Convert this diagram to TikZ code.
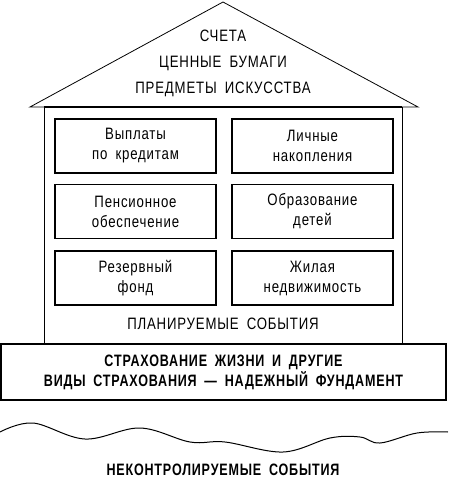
\documentclass[tikz,border=0pt]{standalone}
\usepackage{fontspec}
\setmainfont{Liberation Sans}[FakeStretch=0.8,LetterSpace=5,WordSpace=1.8,BoldFeatures={FakeStretch=0.76}]
\usetikzlibrary{positioning}
\begin{document}
\begin{tikzpicture}[x=1pt,y=-1pt,
  txt/.style={font=\fontsize{16.5}{20}\selectfont,align=center,inner sep=0pt},
  cell/.style={txt,draw,line width=1.1pt,minimum width=161pt,minimum height=54pt},
  bold/.style={font=\fontsize{16.5}{20}\selectfont\bfseries,align=center,inner sep=0pt}]
\useasboundingbox (0,0) rectangle (448,480);
% roof and walls
\draw[line width=0.8pt] (30,107) -- (223,2) -- (418,107) -- cycle;
\draw[line width=2.4pt] (44,107) -- (402,107);
\draw[line width=1pt] (44,107) -- (44,344) (402,107) -- (402,344);
\node[txt,font=\fontsize{16.5}{26}\selectfont] (roof) at (223,63) {СЧЕТА\\ЦЕННЫЕ БУМАГИ\\ПРЕДМЕТЫ ИСКУССТВА};
\foreach \n/\x/\y/\t in {loans/135.5/146/{Выплаты\\по кредитам},savings/312.5/146/{Личные\\накопления},
  pension/135.5/211.5/{Пенсионное\\обеспечение},school/312.5/211.5/{Образование\\детей},
  reserve/135.5/278/{Резервный\\фонд},home/312.5/278/{Жилая\\недвижимость}}
  {\node[cell] (\n) at (\x,\y) {\t};}
\node[txt] (planned) at (223,324) {ПЛАНИРУЕМЫЕ СОБЫТИЯ};
% foundation
\node[bold,draw,line width=1.3pt,minimum width=445pt,minimum height=56pt] (base) at (223.5,372) {СТРАХОВАНИЕ ЖИЗНИ И ДРУГИЕ\\ВИДЫ СТРАХОВАНИЯ — НАДЕЖНЫЙ ФУНДАМЕНТ};
\draw[line width=1pt] plot[smooth,tension=0.6] coordinates {(0,432) (33,423) (85,439) (140,428) (190,442) (225,442) (283,452) (330,438) (360,437) (380,443) (417,433) (448,432)};
\node[bold] (uncontrolled) at (223,470) {НЕКОНТРОЛИРУЕМЫЕ СОБЫТИЯ};
\end{tikzpicture}
\end{document}
